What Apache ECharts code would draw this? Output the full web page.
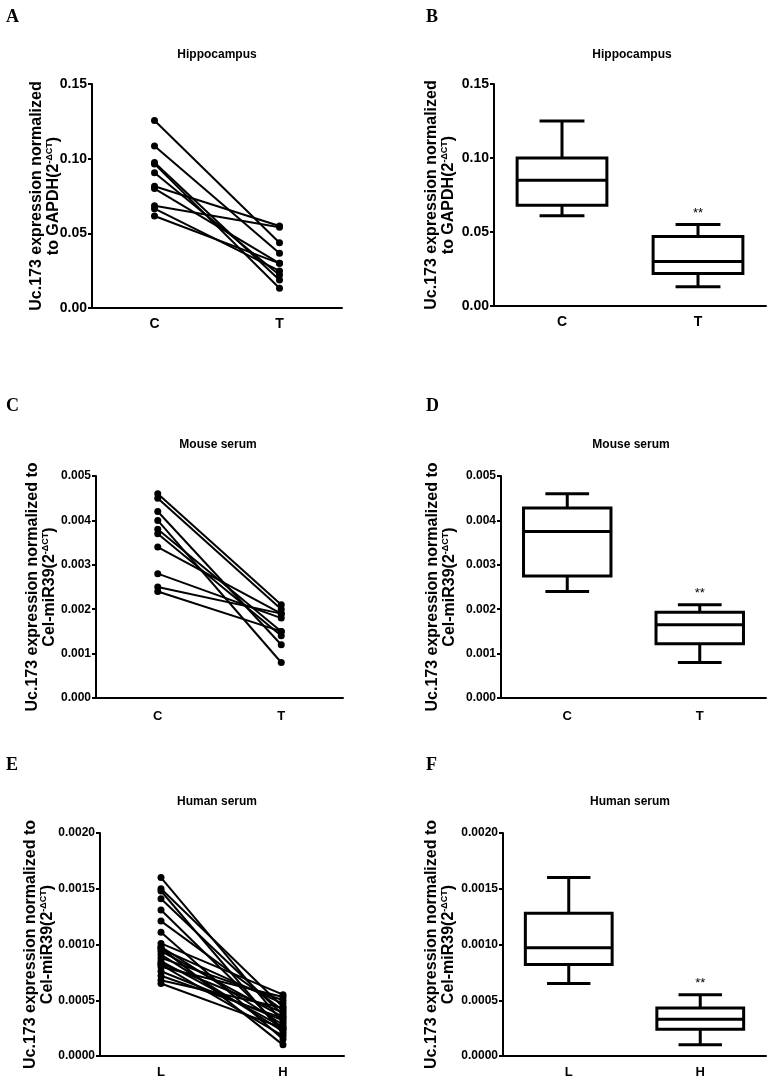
<!DOCTYPE html>
<html>
<head>
<meta charset="utf-8">
<script src="https://cdn.jsdelivr.net/npm/echarts@6/dist/echarts.min.js"></script>
<style>
  html, body { margin: 0; padding: 0; background: #fff; }
  #main { width: 772px; height: 1083px; }
</style>
</head>
<body>
<div id="main"></div>
<script>
// A / B : hippocampus, paired C -> T
var hipCats = ['C', 'T'];
var hipC = [0.1255, 0.1085, 0.0975, 0.0965, 0.0906, 0.0815, 0.0800, 0.0685, 0.0665, 0.0616];
var hipT = [0.0437, 0.0366, 0.0188, 0.0132, 0.0221, 0.0549, 0.0299, 0.0540, 0.0248, 0.0299];
// [min, q1, median, q3, max]
var hipBox = [[0.061, 0.068, 0.085, 0.100, 0.125], [0.013, 0.022, 0.030, 0.047, 0.055]];
var hipTicks = [0, 0.15, 0.05];

// C / D : mouse serum
var mouseCats = ['C', 'T'];
var mouseC = [0.0046, 0.0045, 0.0042, 0.0040, 0.0038, 0.0037, 0.0034, 0.0028, 0.0025, 0.0024];
var mouseT = [0.0021, 0.0020, 0.0012, 0.0008, 0.0015, 0.0014, 0.0019, 0.0018, 0.0019, 0.0015];
var mouseBox = [[0.0024, 0.00275, 0.00375, 0.00428, 0.0046], [0.0008, 0.00122, 0.00165, 0.00193, 0.0021]];
var mouseTicks = [0, 0.005, 0.001];

// E / F : human serum, L -> H
var humanCats = ['L', 'H'];
var humanL = [0.00160, 0.00150, 0.00148, 0.00141, 0.00131, 0.00121, 0.00111, 0.00101, 0.00098, 0.00097, 0.00096,
              0.00094, 0.00091, 0.00088, 0.00085, 0.00083, 0.00082, 0.00080, 0.00076, 0.00072, 0.00068, 0.00065];
var humanH = [0.00030, 0.00044, 0.00020, 0.00037, 0.00024, 0.00041, 0.00015, 0.00055, 0.00028, 0.00010, 0.00047,
              0.00035, 0.00022, 0.00050, 0.00026, 0.00039, 0.00018, 0.00053, 0.00032, 0.00034, 0.00043, 0.00025];
var humanBox = [[0.00065, 0.00082, 0.00097, 0.00128, 0.0016], [0.0001, 0.00024, 0.00033, 0.00043, 0.00055]];
var humanTicks = [0, 0.002, 0.0005];

var stars = ['', '**'];

var wide = "'Liberation Sans', Arial, sans-serif";
var serif = "'Liberation Serif', 'Times New Roman', serif";

var myChart = echarts.init(document.getElementById('main'));

// grids: left, top, width, height
var grids = [
  { left: 92, top: 84, width: 250, height: 224 },
  { left: 494, top: 84, width: 272, height: 222 },
  { left: 96, top: 476, width: 247, height: 222 },
  { left: 501, top: 476, width: 265, height: 222 },
  { left: 100, top: 833, width: 244, height: 223 },
  { left: 503, top: 833, width: 263, height: 223 }
];

function xAxisOf(i, cats, size, margin) {
  return {
    type: 'category', gridIndex: i, data: cats,
    axisLine: { lineStyle: { color: '#000', width: 2 } },
    axisTick: { alignWithLabel: true, length: 5, lineStyle: { color: '#000', width: 2 } },
    axisLabel: { color: '#000', fontSize: size, fontWeight: 'bold', fontFamily: wide, margin: margin },
    splitLine: { show: false }
  };
}

function yAxisOf(i, ticks, digits, line1, line2, gap, size) {
  return {
    type: 'value', gridIndex: i, min: ticks[0], max: ticks[1], interval: ticks[2],
    axisLine: { show: true, lineStyle: { color: '#000', width: 2 } },
    axisTick: { show: true, length: 4, lineStyle: { color: '#000', width: 2 } },
    axisLabel: {
      color: '#000', fontSize: size, fontWeight: 'bold', fontFamily: wide, margin: 5,
      formatter: function (v) { return v.toFixed(digits); }
    },
    splitLine: { show: false },
    name: line1 + '\n{b|' + line2 + '}{s|-ΔCT}{b|)}',
    nameLocation: 'middle', nameRotate: 90, nameGap: gap, nameMoveOverlap: false,
    nameTextStyle: {
      color: '#000', fontSize: 16, fontWeight: 'bold', fontFamily: wide, lineHeight: 17,
      rich: {
        b: { color: '#000', fontSize: 16, fontWeight: 'bold', fontFamily: wide, lineHeight: 17 },
        s: { color: '#000', fontSize: 9, fontFamily: wide, lineHeight: 17, verticalAlign: 'top' }
      }
    }
  };
}

function pairSeries(idx, a, b) {
  return a.map(function (v, k) {
    return {
      type: 'line', xAxisIndex: idx, yAxisIndex: idx, data: [v, b[k]],
      symbol: 'circle', symbolSize: 7, silent: true, animation: false,
      itemStyle: { color: '#000' }, lineStyle: { color: '#000', width: 2 }
    };
  });
}

function boxSeries(idx, boxes) {
  return {
    type: 'custom', xAxisIndex: idx, yAxisIndex: idx, silent: true, animation: false,
    data: boxes.map(function (b, k) { return [k].concat(b); }),
    encode: { x: 0, y: [1, 2, 3, 4, 5] },
    renderItem: function (params, api) {
      var k = api.value(0);
      var lo = api.coord([k, api.value(1)]);
      var q1 = api.coord([k, api.value(2)]);
      var md = api.coord([k, api.value(3)]);
      var q3 = api.coord([k, api.value(4)]);
      var hi = api.coord([k, api.value(5)]);
      var w = api.size([1, 0])[0];
      var bw = w * 0.33, cw = w * 0.165, x = md[0];
      var ls = { stroke: '#000', lineWidth: 3, fill: null };
      var kids = [
        { type: 'line', shape: { x1: x, y1: hi[1], x2: x, y2: q3[1] }, style: ls },
        { type: 'line', shape: { x1: x, y1: q1[1], x2: x, y2: lo[1] }, style: ls },
        { type: 'line', shape: { x1: x - cw, y1: hi[1], x2: x + cw, y2: hi[1] }, style: ls },
        { type: 'line', shape: { x1: x - cw, y1: lo[1], x2: x + cw, y2: lo[1] }, style: ls },
        { type: 'rect', shape: { x: x - bw, y: q3[1], width: 2 * bw, height: q1[1] - q3[1] },
          style: { stroke: '#000', lineWidth: 3, fill: '#fff' } },
        { type: 'line', shape: { x1: x - bw, y1: md[1], x2: x + bw, y2: md[1] }, style: ls }
      ];
      if (stars[params.dataIndex]) {
        kids.push({ type: 'text', style: { text: stars[params.dataIndex], x: x, y: hi[1] - 5,
          align: 'center', verticalAlign: 'bottom', fontSize: 13, fontFamily: wide, fill: '#000' } });
      }
      return { type: 'group', children: kids };
    }
  };
}

function letter(t, x, y) {
  return { text: t, left: x, top: y, padding: 0,
    textStyle: { fontFamily: serif, fontSize: 18, fontWeight: 'bold', color: '#000' } };
}
function heading(t, cx, y) {
  return { text: t, left: cx, top: y, padding: 0, textAlign: 'center',
    textStyle: { fontFamily: wide, fontSize: 12, fontWeight: 'bold', color: '#000' } };
}

var series = []
  .concat(pairSeries(0, hipC, hipT))
  .concat([boxSeries(1, hipBox)])
  .concat(pairSeries(2, mouseC, mouseT))
  .concat([boxSeries(3, mouseBox)])
  .concat(pairSeries(4, humanL, humanH))
  .concat([boxSeries(5, humanBox)]);

myChart.setOption({
  backgroundColor: '#fff',
  animation: false,
  title: [
    letter('A', 6, 8), letter('B', 426, 8),
    letter('C', 6, 397), letter('D', 426, 397),
    letter('E', 6, 756), letter('F', 426, 756),
    heading('Hippocampus', 217, 49), heading('Hippocampus', 632, 49),
    heading('Mouse serum', 218, 439), heading('Mouse serum', 631, 439),
    heading('Human serum', 217, 796), heading('Human serum', 630, 796)
  ],
  grid: grids,
  xAxis: [
    xAxisOf(0, hipCats, 14, 9), xAxisOf(1, hipCats, 14, 9),
    xAxisOf(2, mouseCats, 13, 12), xAxisOf(3, mouseCats, 13, 12),
    xAxisOf(4, humanCats, 13, 10), xAxisOf(5, humanCats, 13, 10)
  ],
  yAxis: [
    yAxisOf(0, hipTicks, 2, 'Uc.173 expression normalized', 'to GAPDH(2', 30, 14),
    yAxisOf(1, hipTicks, 2, 'Uc.173 expression normalized', 'to GAPDH(2', 37, 14),
    yAxisOf(2, mouseTicks, 3, 'Uc.173 expression normalized to', 'Cel-miR39(2', 38, 12),
    yAxisOf(3, mouseTicks, 3, 'Uc.173 expression normalized to', 'Cel-miR39(2', 43, 12),
    yAxisOf(4, humanTicks, 4, 'Uc.173 expression normalized to', 'Cel-miR39(2', 44, 12),
    yAxisOf(5, humanTicks, 4, 'Uc.173 expression normalized to', 'Cel-miR39(2', 46, 12)
  ],
  series: series
});
window.onresize = myChart.resize;
</script>
</body>
</html>
